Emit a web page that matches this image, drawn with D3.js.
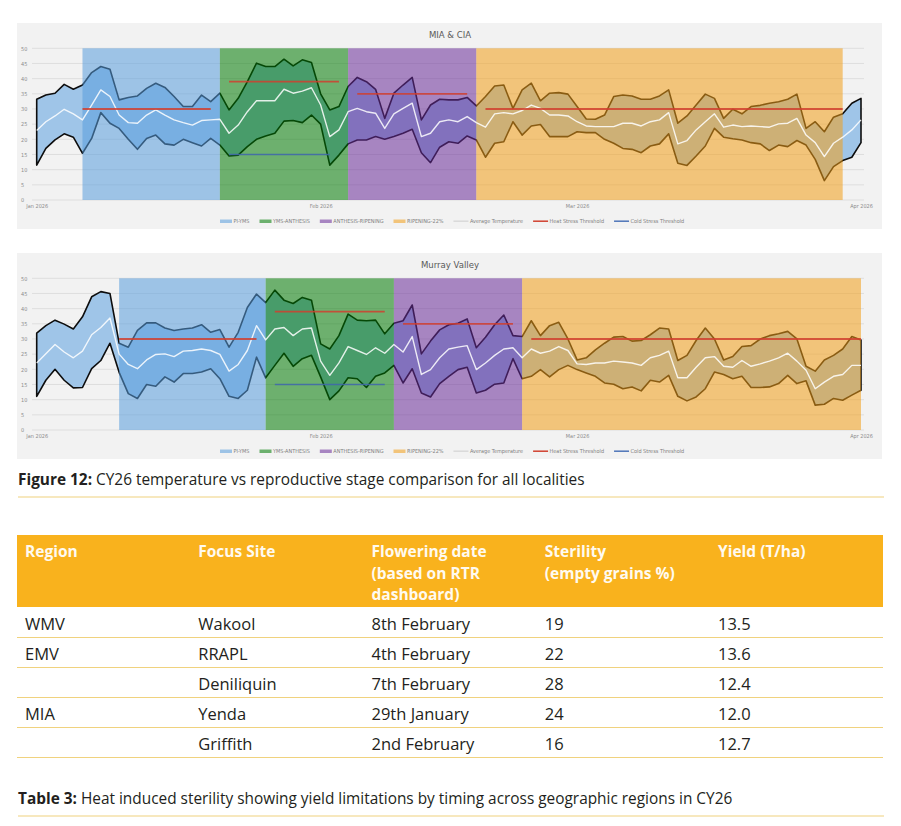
<!DOCTYPE html>
<html>
<head>
<meta charset="utf-8">
<script src="https://cdn.jsdelivr.net/npm/d3@7"></script>
<style>
	body { margin: 0; background: #fff; }
	svg { display: block; }
</style>
</head>
<body>
<div id="page"></div>
<script>
// daily series, 1 Jan to 1 Apr 2026
const startDay = new Date(2026, 0, 1)
const endDay = new Date(2026, 3, 1)
const days = d3.timeDay.range(startDay, d3.timeDay.offset(endDay, 1))

const miaMax = [33.2, 34.6, 35.2, 38.1, 36.5, 37.9, 42.0, 44.0, 43.1, 33.0,
	33.8, 34.3, 36.8, 38.5, 37.1, 34.1, 30.8, 30.8, 34.6, 32.4,
	35.2, 29.7, 33.5, 39.0, 45.1, 44.0, 44.0, 46.4, 44.2, 46.2,
	45.3, 35.0, 29.7, 30.8, 37.4, 40.4, 39.0, 36.5, 26.9, 35.2,
	37.9, 40.4, 26.4, 31.3, 33.2, 33.0, 33.0, 33.8, 31.0, 34.1,
	37.6, 37.9, 30.2, 36.3, 38.5, 32.7, 35.2, 35.4, 34.9, 30.8,
	26.7, 26.6, 28.0, 34.1, 34.6, 34.3, 33.2, 33.2, 34.3, 36.3,
	25.3, 27.7, 31.3, 34.9, 33.5, 26.9, 29.9, 28.4, 30.8, 31.2,
	31.9, 32.4, 33.2, 34.9, 23.6, 25.8, 22.5, 27.3, 28.4, 31.9,
	33.5]
const miaMin = [11.5, 17.0, 19.8, 21.8, 20.7, 15.4, 20.3, 28.8, 25.3, 23.6,
	20.0, 16.7, 20.3, 21.4, 18.5, 18.1, 20.0, 18.9, 17.8, 20.3,
	18.1, 14.5, 14.8, 17.6, 20.0, 21.1, 22.0, 26.0, 26.2, 25.5,
	28.0, 25.0, 11.5, 14.8, 18.5, 19.8, 19.8, 20.9, 20.0, 20.9,
	22.0, 23.3, 15.6, 12.3, 17.4, 19.2, 18.7, 21.1, 19.8, 14.1,
	18.7, 19.2, 25.8, 21.4, 24.4, 24.9, 20.9, 20.9, 20.9, 22.5,
	22.2, 22.2, 20.0, 18.7, 17.0, 16.7, 15.6, 17.8, 18.5, 21.8,
	12.1, 11.4, 14.5, 17.8, 23.6, 20.7, 20.2, 19.8, 18.9, 18.5,
	16.3, 18.1, 17.6, 19.6, 18.1, 13.4, 6.4, 11.0, 13.0, 14.1,
	18.9]
const miaAvg = [22.9, 25.8, 27.7, 29.9, 28.4, 26.4, 31.3, 36.3, 34.1, 28.0,
	25.5, 25.3, 28.0, 29.7, 28.0, 26.4, 25.5, 24.7, 26.2, 26.4,
	26.6, 22.0, 24.7, 29.1, 32.7, 32.7, 32.7, 36.5, 35.2, 35.9,
	37.0, 31.3, 20.9, 23.1, 29.1, 30.2, 29.1, 28.6, 23.6, 28.4,
	30.2, 31.9, 20.9, 22.0, 25.8, 26.4, 25.8, 27.5, 25.5, 24.0,
	28.4, 28.8, 28.4, 29.5, 31.3, 30.2, 28.0, 28.0, 27.7, 25.8,
	24.4, 24.2, 24.2, 24.2, 25.3, 25.3, 24.4, 25.8, 26.4, 28.8,
	18.5, 19.6, 23.1, 25.8, 28.4, 24.0, 24.7, 24.2, 24.4, 24.2,
	24.0, 25.1, 25.3, 26.9, 21.4, 18.9, 14.3, 18.7, 20.7, 23.1,
	26.4]

const murrayMax = [31.9, 34.4, 36.2, 34.9, 33.3, 37.3, 43.9, 45.6, 45.0, 28.6,
	27.3, 32.8, 35.3, 35.3, 33.6, 32.8, 33.3, 33.6, 34.7, 32.2,
	33.1, 27.3, 32.2, 40.4, 44.8, 42.0, 46.1, 42.8, 41.7, 43.7,
	42.8, 28.4, 26.7, 31.1, 38.2, 36.2, 36.0, 36.2, 31.7, 35.2,
	36.0, 41.2, 25.1, 29.3, 33.0, 34.7, 35.2, 36.6, 27.1, 30.6,
	34.7, 37.9, 31.1, 30.8, 36.0, 31.1, 34.4, 35.5, 30.0, 23.1,
	23.8, 26.4, 28.6, 30.6, 30.8, 29.3, 29.5, 31.4, 33.6, 33.3,
	22.9, 24.6, 29.5, 33.6, 30.0, 23.1, 24.2, 27.5, 27.8, 30.0,
	31.1, 31.7, 32.5, 30.0, 21.0, 19.4, 23.1, 24.6, 26.7, 30.8,
	29.7]
const murrayMin = [11.1, 16.4, 20.0, 16.4, 13.9, 14.0, 20.2, 22.9, 28.6, 19.0,
	12.0, 10.4, 15.0, 14.4, 17.5, 15.8, 18.6, 18.6, 19.1, 20.2,
	16.9, 11.1, 10.4, 13.1, 24.0, 17.2, 21.3, 25.3, 21.0, 23.5,
	24.6, 17.5, 10.0, 12.9, 17.2, 16.9, 14.0, 17.7, 18.8, 21.3,
	15.5, 20.2, 12.2, 10.9, 15.3, 17.7, 19.9, 20.7, 12.2, 13.1,
	15.1, 15.5, 23.5, 16.9, 17.7, 19.9, 17.5, 19.9, 21.3, 19.9,
	18.8, 17.7, 15.5, 15.1, 13.6, 14.2, 12.9, 16.4, 15.8, 18.0,
	11.1, 9.6, 10.9, 13.6, 19.1, 18.3, 16.9, 17.7, 14.0, 14.0,
	14.2, 15.3, 18.0, 15.3, 16.2, 8.2, 8.5, 10.4, 9.8, 11.5,
	13.1]
const murrayAvg = [22.1, 25.1, 28.2, 25.7, 23.8, 26.0, 31.4, 33.8, 36.9, 25.0,
	21.6, 20.2, 23.1, 24.9, 25.1, 24.2, 26.0, 26.2, 26.7, 26.2,
	24.9, 19.4, 21.6, 26.2, 34.4, 29.7, 33.3, 33.8, 31.1, 33.3,
	33.6, 22.7, 18.0, 22.1, 27.5, 26.2, 24.9, 27.1, 25.3, 28.2,
	25.7, 30.8, 18.3, 19.9, 23.8, 26.7, 27.3, 27.8, 19.9, 22.1,
	24.6, 26.7, 27.1, 23.8, 26.7, 25.3, 26.0, 27.5, 26.2, 21.8,
	21.6, 22.1, 22.1, 22.7, 22.4, 22.1, 21.3, 23.8, 24.6, 26.0,
	17.2, 17.2, 20.7, 23.8, 24.2, 21.0, 20.7, 22.9, 21.0, 21.8,
	22.7, 23.8, 25.3, 22.7, 19.7, 13.6, 15.8, 17.7, 18.3, 21.3,
	21.3]

// stage periods: each stage runs from its start to the next entry
const stageNames = ["PI-YMS", "YMS-ANTHESIS", "ANTHESIS-RIPENING", "RIPENING-22%"]
const stageColors = ["#9dc3e6", "#6cb06e", "#a785c1", "#f2c47a"]
const miaStageStarts = ["2026-01-06", "2026-01-21", "2026-02-04", "2026-02-18", "2026-03-30"]
const murrayStageStarts = ["2026-01-10", "2026-01-26", "2026-02-09", "2026-02-23", "2026-04-01"]

// threshold segments [from, to, temperature]
const miaHeat = [["2026-01-06", "2026-01-20", 30], ["2026-01-22", "2026-02-03", 39],
	["2026-02-05", "2026-02-17", 35], ["2026-02-19", "2026-03-30", 30]]
const miaCold = [["2026-01-22", "2026-02-02", 15]]
const murrayHeat = [["2026-01-10", "2026-01-25", 30], ["2026-01-27", "2026-02-08", 39],
	["2026-02-10", "2026-02-22", 35], ["2026-02-24", "2026-04-01", 30]]
const murrayCold = [["2026-01-27", "2026-02-08", 15]]

const yTicks = [0, 5, 10, 15, 20, 25, 30, 35, 40, 45, 50]
const monthTicks = ["2026-01-01", "2026-02-01", "2026-03-01", "2026-04-01"]

const legendItems = [
	{label: "PI-YMS", kind: "rect", color: stageColors[0]},
	{label: "YMS-ANTHESIS", kind: "rect", color: stageColors[1]},
	{label: "ANTHESIS-RIPENING", kind: "rect", color: stageColors[2]},
	{label: "RIPENING-22%", kind: "rect", color: stageColors[3]},
	{label: "Average Temperature", kind: "line", color: "#d9d9d9"},
	{label: "Heat Stress Threshold", kind: "line", color: "#d0402f"},
	{label: "Cold Stress Threshold", kind: "line", color: "#4d74b8"}
]

const tableHeader = [["Region"], ["Focus Site"], ["Flowering date", "(based on RTR", "dashboard)"],
	["Sterility", "(empty grains %)"], ["Yield (T/ha)"]]
const tableRegion = ["WMV", "EMV", "", "MIA", ""]
const tableSite = ["Wakool", "RRAPL", "Deniliquin", "Yenda", "Griffith"]
const tableFlowering = ["8th February", "4th February", "7th February", "29th January", "2nd February"]
const tableSterility = [19, 22, 28, 24, 16]
const tableYield = ["13.5", "13.6", "12.4", "12.0", "12.7"]

const parseDay = d3.timeParse("%Y-%m-%d")
const chartFont = "'Liberation Sans Narrow', 'DejaVu Sans Condensed', sans-serif"
const textFont = "'Open Sans', Lato, sans-serif"
const panelBg = 242
const bandAlpha = 0.55

// colour to lay over the panel at bandAlpha so it shows as the wanted colour
function overlayColor(hex) {
	const c = d3.rgb(hex)
	const f = v => Math.max(0, Math.min(255, Math.round((v - (1 - bandAlpha) * panelBg) / bandAlpha)))
	return d3.rgb(f(c.r), f(c.g), f(c.b)).formatHex()
}

const svg = d3.select("#page").append("svg")
	.attr("width", 901)
	.attr("height", 826)
	.attr("font-family", textFont)

function drawChart(cfg) {
	const g = svg.append("g")
	const x = d3.scaleTime().domain([startDay, endDay]).range([36.7, 861])
	const y = d3.scaleLinear().domain([0, 50]).range([cfg.y0, cfg.y0 - 151.7])
	const rows = days.map((d, i) => ({date: d, max: cfg.max[i], min: cfg.min[i], avg: cfg.avg[i]}))

	g.append("rect")
		.attr("x", 17).attr("y", cfg.y0 - 177)
		.attr("width", 865).attr("height", 206)
		.attr("fill", "rgb(242,242,242)")

	g.append("text")
		.attr("x", 450).attr("y", cfg.y0 - 162)
		.attr("text-anchor", "middle")
		.attr("font-family", chartFont)
		.attr("font-size", 9.5)
		.attr("fill", "#595959")
		.text(cfg.title)

	g.append("g")
		.selectAll("line")
		.data(yTicks)
		.join("line")
			.attr("x1", 32).attr("x2", 864)
			.attr("y1", d => y(d)).attr("y2", d => y(d))
			.attr("stroke", "#d9d9d9")
			.attr("stroke-width", 0.8)

	const yAxis = g.append("g")
		.attr("transform", "translate(21,0)")
		.call(d3.axisRight(y).tickValues(yTicks).tickSize(0).tickPadding(0))
	yAxis.select(".domain").remove()
	yAxis.selectAll("text")
		.attr("font-family", chartFont)
		.attr("font-size", 5.5)
		.attr("fill", "#8c8c8c")

	const xAxis = g.append("g")
		.attr("transform", `translate(0,${cfg.y0 + 4})`)
		.call(d3.axisBottom(x).tickValues(monthTicks.map(parseDay))
			.tickFormat(d3.timeFormat("%b %Y")).tickSize(0).tickPadding(0))
	xAxis.select(".domain").remove()
	xAxis.selectAll("text")
		.attr("font-family", chartFont)
		.attr("font-size", 5.5)
		.attr("fill", "#8c8c8c")

	// min-max band, outlined
	const area = d3.area()
		.x(d => x(d.date))
		.y0(d => y(d.min))
		.y1(d => y(d.max))
	g.append("path")
		.datum(rows)
		.attr("d", area)
		.attr("fill", "#9fc5e8")
		.attr("stroke", "#0d0d0d")
		.attr("stroke-width", 1.6)
		.attr("stroke-linejoin", "round")

	// stage periods laid over the band
	const starts = cfg.stages.map(parseDay)
	g.append("g")
		.selectAll("rect")
		.data(stageNames)
		.join("rect")
			.attr("x", (d, i) => x(starts[i]))
			.attr("width", (d, i) => x(starts[i + 1]) - x(starts[i]))
			.attr("y", y(50))
			.attr("height", y(0) - y(50))
			.attr("fill", (d, i) => overlayColor(stageColors[i]))
			.attr("fill-opacity", bandAlpha)

	const line = d3.line()
		.x(d => x(d.date))
		.y(d => y(d.avg))
	g.append("path")
		.datum(rows)
		.attr("d", line)
		.attr("fill", "none")
		.attr("stroke", "#fff")
		.attr("stroke-opacity", 0.85)
		.attr("stroke-width", 1.4)
		.attr("stroke-linejoin", "round")

	const segment = (sel, data, color, width) => sel.selectAll("line")
		.data(data)
		.join("line")
			.attr("x1", d => x(parseDay(d[0])))
			.attr("x2", d => x(parseDay(d[1])))
			.attr("y1", d => y(d[2]))
			.attr("y2", d => y(d[2]))
			.attr("stroke", color)
			.attr("stroke-width", width)
			.attr("stroke-opacity", 0.85)
	segment(g.append("g"), cfg.heat, "#d0402f", 1.8)
	segment(g.append("g"), cfg.cold, "#3f66ad", 1.3)

	// legend, laid out from the measured label widths
	const legend = g.append("g")
		.attr("font-family", chartFont)
		.attr("font-size", 5.5)
		.attr("fill", "#7f7f7f")
	let cursor = 0
	legendItems.forEach(item => {
		const sw = item.kind === "rect" ? 12 : 15
		if (item.kind === "rect") {
			legend.append("rect")
				.attr("x", cursor).attr("y", cfg.y0 + 19.5)
				.attr("width", sw).attr("height", 3.5)
				.attr("fill", item.color)
		} else {
			legend.append("line")
				.attr("x1", cursor).attr("x2", cursor + sw)
				.attr("y1", cfg.y0 + 21.2).attr("y2", cfg.y0 + 21.2)
				.attr("stroke", item.color)
				.attr("stroke-width", 1.5)
		}
		const t = legend.append("text")
			.attr("x", cursor + sw + 1.5)
			.attr("y", cfg.y0 + 23.2)
			.text(item.label)
		cursor += sw + 1.5 + t.node().getComputedTextLength() + 10
	})
	legend.attr("transform", "translate(220,0)")
}

drawChart({title: "MIA & CIA", y0: 200, max: miaMax, min: miaMin, avg: miaAvg,
	stages: miaStageStarts, heat: miaHeat, cold: miaCold})
drawChart({title: "Murray Valley", y0: 430, max: murrayMax, min: murrayMin, avg: murrayAvg,
	stages: murrayStageStarts, heat: murrayHeat, cold: murrayCold})

// captions with a rule underneath
function caption(y, bold, rest) {
	const t = svg.append("text")
		.attr("x", 18).attr("y", y)
		.attr("font-size", 15.4)
		.attr("fill", "#231f20")
	t.append("tspan").attr("font-weight", 700).text(bold)
	t.append("tspan").text(rest)
	svg.append("line")
		.attr("x1", 18).attr("x2", 884)
		.attr("y1", y + 12).attr("y2", y + 12)
		.attr("stroke", "#f0d27e")
		.attr("stroke-width", 1.2)
}
caption(485, "Figure 12:", " CY26 temperature vs reproductive stage comparison for all localities")

// table
const colX = d3.scalePoint().domain(d3.range(5)).range([25, 718])
svg.append("rect")
	.attr("x", 17).attr("y", 535)
	.attr("width", 866).attr("height", 72)
	.attr("fill", "#f9b21d")

svg.append("g")
	.selectAll("text")
	.data(tableHeader)
	.join("text")
		.attr("x", (d, i) => colX(i))
		.attr("y", 557)
		.attr("font-size", 15.5)
		.attr("font-weight", 700)
		.attr("fill", "#fffaf0")
		.selectAll("tspan")
		.data(d => d)
		.join("tspan")
			.attr("x", function () { return this.parentNode.getAttribute("x") })
			.attr("dy", (d, i) => i === 0 ? 0 : 21.5)
			.text(d => d)

const tableRows = tableSite.map((s, i) =>
	[tableRegion[i], s, tableFlowering[i], String(tableSterility[i]), tableYield[i]])
const rowY = d3.scalePoint().domain(d3.range(5)).range([637.5, 757.5])
const rowG = svg.append("g")
	.selectAll("g")
	.data(tableRows)
	.join("g")
rowG.append("line")
	.attr("x1", 17).attr("x2", 883)
	.attr("y1", (d, i) => rowY(i)).attr("y2", (d, i) => rowY(i))
	.attr("stroke", "#f0d27e")
	.attr("stroke-width", 1.2)
rowG.each(function (row, r) {
	d3.select(this).selectAll("text")
		.data(row)
		.join("text")
			.attr("x", (d, i) => colX(i))
			.attr("y", rowY(r) - 8)
			.attr("font-size", 16.5)
			.attr("fill", "#231f20")
			.text(d => d)
})

caption(804, "Table 3:", " Heat induced sterility showing yield limitations by timing across geographic regions in CY26")
</script>
</body>
</html>
